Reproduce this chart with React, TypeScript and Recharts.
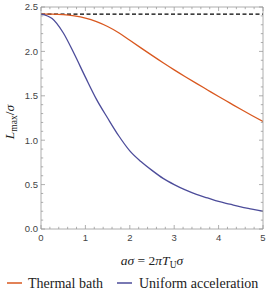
import React from "react";
import { ComposedChart, Line, XAxis, YAxis, ReferenceLine, Legend } from "recharts";

const xValues = [0, 0.25, 0.5, 0.75, 1, 1.25, 1.5, 1.75, 2, 2.25, 2.5, 2.75, 3, 3.25, 3.5, 3.75, 4, 4.25, 4.5, 4.75, 5];
const thermalBath = [2.42, 2.42, 2.415, 2.4, 2.375, 2.335, 2.28, 2.21, 2.125, 2.04, 1.955, 1.872, 1.792, 1.715, 1.64, 1.566, 1.492, 1.42, 1.348, 1.278, 1.21];
const uniformAcceleration = [2.42, 2.37, 2.21, 1.97, 1.71, 1.46, 1.25, 1.05, 0.88, 0.76, 0.66, 0.57, 0.5, 0.44, 0.39, 0.35, 0.31, 0.28, 0.25, 0.225, 0.2];
const limitValue = 2.42;
const seriesNames = ["Thermal bath", "Uniform acceleration"];

const xTicks = [0, 0.2, 0.4, 0.6, 0.8, 1, 1.2, 1.4, 1.6, 1.8, 2, 2.2, 2.4, 2.6, 2.8, 3, 3.2, 3.4, 3.6, 3.8, 4, 4.2, 4.4, 4.6, 4.8, 5];
const xMajor = [0, 1, 2, 3, 4, 5];
const yTicks = [0, 0.1, 0.2, 0.3, 0.4, 0.5, 0.6, 0.7, 0.8, 0.9, 1, 1.1, 1.2, 1.3, 1.4, 1.5, 1.6, 1.7, 1.8, 1.9, 2, 2.1, 2.2, 2.3, 2.4, 2.5];
const yMajor = [0, 0.5, 1, 1.5, 2, 2.5];

const data = xValues.map((x, i) => ({ x, thermal: thermalBath[i], uniform: uniformAcceleration[i] }));

const FRAME = "#9a9a9a";
const TICK_TEXT = "#444";
const ORANGE = "#D9581F";
const BLUE = "#4C4C9A";
const MAJOR = 4;
const MINOR = 2.2;
const SERIF = "Liberation Serif";
const SANS = "Liberation Sans";

const isMajor = (v: number, list: number[]) => list.some((m) => Math.abs(m - v) < 1e-6);

const BottomTick = (props: any) => {
  const { x, y, payload } = props;
  const v = payload.value;
  const major = isMajor(v, xMajor);
  const y0 = y - 6;
  return (
    <g>
      <line x1={x} x2={x} y1={y0} y2={y0 - (major ? MAJOR : MINOR)} stroke={FRAME} strokeWidth={0.8} />
      {major && (
        <text x={x} y={y0 + 12} textAnchor="middle" fontSize={9.5} fontFamily={SANS} fill={TICK_TEXT}>
          {String(v)}
        </text>
      )}
    </g>
  );
};

const TopTick = (props: any) => {
  const { x, y, payload } = props;
  const major = isMajor(payload.value, xMajor);
  return <line x1={x} x2={x} y1={y} y2={y + (major ? MAJOR : MINOR)} stroke={FRAME} strokeWidth={0.8} />;
};

const LeftTick = (props: any) => {
  const { x, y, payload } = props;
  const v = payload.value;
  const major = isMajor(v, yMajor);
  const x0 = x + 3;
  return (
    <g>
      <line x1={x0} x2={x0 + (major ? MAJOR : MINOR)} y1={y} y2={y} stroke={FRAME} strokeWidth={0.8} />
      {major && (
        <text x={x} y={y + 3.3} textAnchor="end" fontSize={9.5} fontFamily={SANS} fill={TICK_TEXT}>
          {v.toFixed(1)}
        </text>
      )}
    </g>
  );
};

const RightTick = (props: any) => {
  const { x, y, payload } = props;
  const major = isMajor(payload.value, yMajor);
  return <line x1={x} x2={x - (major ? MAJOR : MINOR)} y1={y} y2={y} stroke={FRAME} strokeWidth={0.8} />;
};

const XLabel = (props: any) => {
  const vb = props.viewBox || {};
  const cx = (vb.x || 0) + (vb.width || 0) / 2;
  const y = (vb.y || 0) + 36;
  return (
    <text x={cx} y={y} textAnchor="middle" fontSize={13.5} fontFamily={SERIF} fill="#222">
      <tspan fontStyle="italic">aσ</tspan>
      <tspan> = 2</tspan>
      <tspan fontStyle="italic">πT</tspan>
      <tspan fontSize={9.5} dy={3}>U</tspan>
      <tspan fontStyle="italic" dy={-3}>σ</tspan>
    </text>
  );
};

const YLabel = () => {
  const cx = 14;
  const cy = 122;
  return (
    <text x={cx} y={cy} transform={`rotate(-90 ${cx} ${cy})`} textAnchor="middle" fontSize={13.5} fontFamily={SERIF} fill="#222">
      <tspan fontStyle="italic">L</tspan>
      <tspan fontSize={9.5} dy={3}>max</tspan>
      <tspan dy={-3}>/</tspan>
      <tspan fontStyle="italic">σ</tspan>
    </text>
  );
};

const LegendContent = () => (
  <svg width={266} height={30} style={{ display: "block" }}>
    <line x1={7} x2={22} y1={14} y2={14} stroke={ORANGE} strokeWidth={1.5} />
    <text x={28} y={18.5} fontSize={14} fontFamily={SERIF} fill="#222">{seriesNames[0]}</text>
    <line x1={117} x2={132} y1={14} y2={14} stroke={BLUE} strokeWidth={1.5} />
    <text x={139} y={18.5} fontSize={14} fontFamily={SERIF} fill="#222">{seriesNames[1]}</text>
  </svg>
);

export default function App() {
  return (
    <div style={{ position: "absolute", left: 0, top: 0, width: 266, height: 299, background: "#fff" }}>
      <ComposedChart width={266} height={299} data={data} margin={{ top: 6, right: 2, bottom: 0, left: 0 }}>
        <XAxis xAxisId={0} dataKey="x" type="number" domain={[0, 5]} ticks={xTicks} interval={0} allowDataOverflow
          tickSize={0} tickMargin={6} tickLine={false} tick={<BottomTick />} axisLine={{ stroke: FRAME, strokeWidth: 0.8 }} height={40}
          label={<XLabel />} />
        <XAxis xAxisId="top" orientation="top" dataKey="x" type="number" domain={[0, 5]} ticks={xTicks} interval={0} allowDataOverflow
          tickSize={0} tickMargin={0} tickLine={false} tick={<TopTick />} axisLine={{ stroke: FRAME, strokeWidth: 0.8 }} height={1} />
        <YAxis yAxisId={0} type="number" domain={[0, 2.5]} ticks={yTicks} interval={0} allowDataOverflow
          tickSize={0} tickMargin={3} tickLine={false} tick={<LeftTick />} axisLine={{ stroke: FRAME, strokeWidth: 0.8 }} width={41}
          label={<YLabel />} />
        <YAxis yAxisId="right" orientation="right" type="number" domain={[0, 2.5]} ticks={yTicks} interval={0} allowDataOverflow
          tickSize={0} tickMargin={0} tickLine={false} tick={<RightTick />} axisLine={{ stroke: FRAME, strokeWidth: 0.8 }} width={1} />
        <ReferenceLine y={limitValue} stroke="#000" strokeWidth={1.3} strokeDasharray="4 2.5" />
        <Line dataKey="thermal" name={seriesNames[0]} type="monotone" stroke={ORANGE} strokeWidth={1.3} dot={false} isAnimationActive={false} />
        <Line dataKey="uniform" name={seriesNames[1]} type="monotone" stroke={BLUE} strokeWidth={1.3} dot={false} isAnimationActive={false} />
        <Legend verticalAlign="bottom" height={30} content={<LegendContent />} />
      </ComposedChart>
    </div>
  );
}
